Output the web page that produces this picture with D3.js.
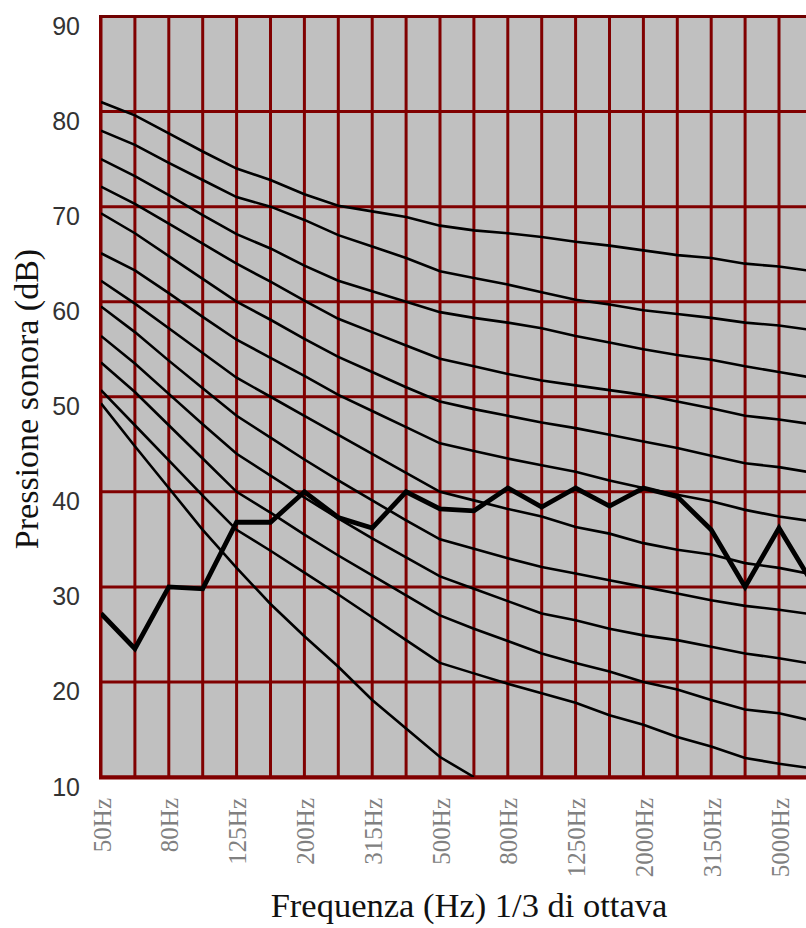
<!DOCTYPE html>
<html>
<head>
<meta charset="utf-8">
<script src="https://cdn.jsdelivr.net/npm/d3@7/dist/d3.min.js"></script>
<style>
  body { margin: 0; background: #fff; overflow: hidden; }
  svg { display: block; }
</style>
</head>
<body>
<script>
// 1/3 octave bands (the plot runs off the right edge after 5000Hz)
var bands = [50, 63, 80, 100, 125, 160, 200, 250, 315, 400, 500, 630, 800, 1000, 1250, 1600, 2000, 2500, 3150, 4000, 5000, 6300];
var labelBands = [50, 80, 125, 200, 315, 500, 800, 1250, 2000, 3150, 5000];
var yTicks = [10, 20, 30, 40, 50, 60, 70, 80, 90];

// reference curves, top to bottom
var curve1 = [81, 79.6, 77.7, 75.8, 74.0, 72.8, 71.3, 70.1, 69.5, 68.9, 68.0, 67.5, 67.2, 66.8, 66.3, 65.9, 65.4, 64.9, 64.6, 64.0, 63.7, 63.2];
var curve2 = [78, 76.5, 74.6, 72.8, 71.0, 70.0, 68.6, 67.0, 65.8, 64.6, 63.2, 62.5, 61.8, 61.0, 60.2, 59.7, 59.1, 58.7, 58.3, 57.8, 57.5, 57.0];
var curve3 = [75, 73.2, 71.2, 69.1, 67.1, 65.6, 63.8, 62.2, 61.1, 60.0, 58.9, 58.3, 57.8, 57.2, 56.4, 55.7, 55.0, 54.4, 53.9, 53.2, 52.6, 52.0];
var curve4 = [72.1, 70.3, 68.2, 66.1, 64.0, 62.1, 60.1, 58.2, 56.8, 55.4, 54.0, 53.2, 52.4, 51.7, 51.2, 50.7, 50.2, 49.5, 48.8, 48.0, 47.6, 47.1];
var curve5 = [69.3, 67.2, 64.8, 62.4, 60.0, 58.1, 56.1, 54.2, 52.6, 51.0, 49.5, 48.7, 48.0, 47.3, 46.7, 46.0, 45.3, 44.6, 43.8, 43.0, 42.6, 42.0];
var curve6 = [65.1, 63.3, 60.9, 58.4, 56.0, 54.1, 52.2, 50.2, 48.5, 46.8, 45.1, 44.3, 43.5, 42.8, 42.1, 41.2, 40.4, 39.7, 39.0, 38.1, 37.4, 36.9];
var curve7 = [62.2, 59.8, 57.2, 54.6, 52.0, 50.0, 48.0, 46.0, 44.0, 42.0, 40.0, 39.1, 38.2, 37.4, 36.3, 35.6, 34.6, 33.9, 33.4, 32.5, 32.0, 31.3];
var curve8 = [59.5, 56.8, 53.8, 50.9, 48.0, 45.7, 43.4, 41.2, 39.1, 37.0, 35.0, 34.0, 33.0, 32.1, 31.4, 30.7, 30.0, 29.3, 28.6, 28.0, 27.6, 27.1];
var curve9 = [56.4, 53.5, 50.3, 47.1, 44.0, 41.7, 39.4, 37.2, 35.1, 33.1, 31.1, 29.8, 28.5, 27.2, 26.5, 25.6, 24.9, 24.4, 23.7, 23.0, 22.5, 21.9];
var curve10 = [53.6, 50.5, 47.0, 43.5, 40.0, 37.8, 35.5, 33.3, 31.2, 29.1, 27.0, 25.6, 24.3, 23.0, 22.0, 21.1, 20.0, 19.2, 18.1, 17.1, 16.7, 15.9];
var curve11 = [50.7, 47.0, 43.3, 39.6, 36.0, 33.8, 31.5, 29.2, 26.8, 24.4, 22.0, 20.9, 19.8, 18.8, 17.8, 16.5, 15.5, 14.2, 13.2, 12.0, 11.4, 10.9];
var curve12 = [49.3, 44.8, 40.4, 36.0, 32.0, 28.2, 24.8, 21.6, 18.1, 15.1, 12.1, 10.0];

// measured spectrum (thick line)
var measured = [27.2, 23.5, 30.0, 29.8, 36.8, 36.8, 40.0, 37.3, 36.2, 40.0, 38.2, 38.0, 40.4, 38.4, 40.4, 38.5, 40.4, 39.5, 36.0, 30.0, 36.2, 30.3];

var curves = [curve1, curve2, curve3, curve4, curve5, curve6, curve7, curve8, curve9, curve10, curve11, curve12];

var width = 806, height = 928;
var plotLeft = 101, plotTop = 16.5, plotBottom = 777, step = 33.9;
var plotRight = plotLeft + step * (bands.length - 1) + 30;

var grid = "#800000";

var x = d3.scalePoint()
    .domain(bands)
    .range([plotLeft, plotLeft + step * (bands.length - 1)]);

var y = d3.scaleLinear()
    .domain([10, 90])
    .range([plotBottom, plotTop]);

var svg = d3.select("body").append("svg")
    .attr("width", width)
    .attr("height", height);

svg.append("rect")
    .attr("width", width).attr("height", height)
    .attr("fill", "#fff");

//plot background
svg.append("rect")
    .attr("x", plotLeft).attr("y", plotTop)
    .attr("width", plotRight - plotLeft).attr("height", plotBottom - plotTop)
    .attr("fill", "#c0c0c0");

svg.append("clipPath").attr("id", "plot")
  .append("rect")
    .attr("x", plotLeft).attr("y", plotTop)
    .attr("width", plotRight - plotLeft).attr("height", plotBottom - plotTop);

//grid
svg.append("g").selectAll("line")
    .data(bands)
    .enter().append("line")
    .attr("x1", function(d) { return x(d); })
    .attr("x2", function(d) { return x(d); })
    .attr("y1", plotTop).attr("y2", plotBottom)
    .attr("stroke", grid)
    .attr("stroke-width", 3);

svg.append("g").selectAll("line")
    .data(yTicks)
    .enter().append("line")
    .attr("x1", plotLeft).attr("x2", plotRight)
    .attr("y1", function(d) { return y(d); })
    .attr("y2", function(d) { return y(d); })
    .attr("stroke", grid)
    .attr("stroke-width", 3);

//frame
svg.append("line")
    .attr("x1", plotLeft - 0.5).attr("x2", plotLeft - 0.5)
    .attr("y1", plotTop - 1.5).attr("y2", plotBottom + 2)
    .attr("stroke", grid).attr("stroke-width", 3);
svg.append("line")
    .attr("x1", plotLeft - 2).attr("x2", plotRight)
    .attr("y1", plotTop).attr("y2", plotTop)
    .attr("stroke", "#700000").attr("stroke-width", 3);
svg.append("line")
    .attr("x1", plotLeft - 2).attr("x2", plotRight)
    .attr("y1", plotBottom + 0.5).attr("y2", plotBottom + 0.5)
    .attr("stroke", grid).attr("stroke-width", 4);

var line = d3.line()
    .x(function(d, i) { return x(bands[i]); })
    .y(function(d) { return y(d); });

var plot = svg.append("g").attr("clip-path", "url(#plot)");

plot.selectAll(".curve")
    .data(curves)
    .enter().append("path")
    .attr("class", "curve")
    .attr("d", line)
    .attr("fill", "none")
    .attr("stroke", "#000")
    .attr("stroke-width", 2.6);

plot.append("path")
    .datum(measured)
    .attr("d", line)
    .attr("fill", "none")
    .attr("stroke", "#000")
    .attr("stroke-width", 4.8)
    .attr("stroke-linejoin", "miter");

//y axis labels
var yAxis = d3.axisLeft(y)
    .tickValues(yTicks)
    .tickSize(0)
    .tickPadding(0);

var gy = svg.append("g")
    .attr("transform", "translate(80,0)")
    .call(yAxis);
gy.select(".domain").remove();
gy.selectAll("text")
    .attr("dy", 18)
    .attr("fill", "#333")
    .style("font-family", "'Liberation Sans', Arial, sans-serif")
    .style("font-size", "25px");

//x axis labels
var xAxis = d3.axisBottom(x)
    .tickValues(labelBands)
    .tickSize(0)
    .tickFormat(function(d) { return d + "Hz"; });

var gx = svg.append("g")
    .attr("transform", "translate(0,798)")
    .call(xAxis);
gx.select(".domain").remove();
gx.selectAll("text")
    .attr("transform", "rotate(-90)")
    .attr("x", 0).attr("y", 9).attr("dy", 0)
    .attr("text-anchor", "end")
    .attr("fill", "#808080")
    .style("font-family", "'Liberation Serif', 'Times New Roman', serif")
    .style("font-size", "25px");

//titles
svg.append("text")
    .attr("transform", "translate(38,399) rotate(-90)")
    .attr("text-anchor", "middle")
    .style("font-family", "'Liberation Serif', 'Times New Roman', serif")
    .style("font-size", "34px")
    .attr("fill", "#111")
    .text("Pressione sonora (dB)");

svg.append("text")
    .attr("x", 469).attr("y", 917)
    .attr("text-anchor", "middle")
    .style("font-family", "'Liberation Serif', 'Times New Roman', serif")
    .style("font-size", "34.5px")
    .attr("fill", "#111")
    .text("Frequenza (Hz) 1/3 di ottava");
</script>
</body>
</html>
